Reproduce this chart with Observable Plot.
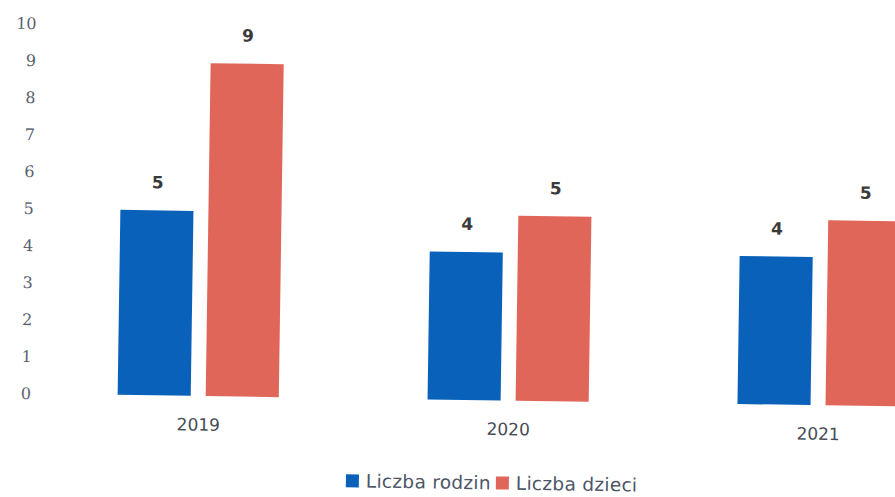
<!DOCTYPE html>
<html>
<head>
<meta charset="utf-8">
<script src="https://cdn.jsdelivr.net/npm/d3@7"></script>
<script src="https://cdn.jsdelivr.net/npm/@observablehq/plot@0.6"></script>
<style>
  html, body { margin: 0; padding: 0; background: #fff; overflow: hidden; width: 895px; height: 497px; }
  #wrap { position: relative; width: 982px; height: 497px; transform: rotate(0.85deg); transform-origin: 0 0; }
  #legend { position: absolute; left: 353px; top: 463px; }
  #legend > div { min-height: 0 !important; margin: 0 !important; height: 24px; display: flex; align-items: center; }
  #legend span { margin-right: 5px !important; letter-spacing: 0.3px; }
  #legend span > svg { margin-right: 7px !important; }
</style>
</head>
<body>
<div id="wrap"><div id="chart"></div><div id="legend"></div></div>
<script>
const years = ["2019", "2020", "2021"];
const seriesNames = ["Liczba rodzin", "Liczba dzieci"];
const liczbaRodzin = [5, 4, 4];
const liczbaDzieci = [9, 5, 5];
const yTicks = [0, 1, 2, 3, 4, 5, 6, 7, 8, 9, 10];
const colors = ["#0a61ba", "#e0665a"];

const data = years.flatMap((year, i) => [
  {year, series: seriesNames[0], value: liczbaRodzin[i]},
  {year, series: seriesNames[1], value: liczbaDzieci[i]}
]);

const chart = Plot.plot({
  width: 982,
  height: 440,
  marginLeft: 48,
  marginRight: 2,
  marginTop: 23,
  marginBottom: 47,
  style: {background: "white", fontFamily: "'DejaVu Sans', sans-serif"},
  fx: {domain: years, paddingInner: 0.48, paddingOuter: 0.2435, round: false, label: null},
  x: {domain: seriesNames, paddingInner: 0.17, paddingOuter: 0, round: false, axis: null},
  y: {domain: [0, 10], label: null},
  color: {domain: seriesNames, range: colors},
  marks: [
    Plot.barY(data, {fx: "year", x: "series", y: "value", fill: "series"}),
    Plot.text(data, {
      fx: "year", x: "series", y: "value",
      text: d => String(d.value),
      dy: -28, fontSize: 17, fontWeight: "bold", fill: "#3a3a3a",
      fontFamily: "'DejaVu Sans', sans-serif"
    }),
    Plot.axisY({
      ticks: yTicks, tickSize: 0, tickPadding: 87, label: null,
      fontSize: 16, fill: "#5a5f70", fontFamily: "'DejaVu Serif', serif"
    }),
    Plot.axisFx({
      anchor: "bottom", tickSize: 0, tickPadding: 22, label: null,
      fontSize: 17, fill: "#474b55", fontFamily: "'DejaVu Sans', sans-serif"
    })
  ]
});
document.getElementById("chart").append(chart);

const legend = Plot.legend({
  color: {domain: seriesNames, range: colors},
  legend: "swatches",
  swatchSize: 13,
  style: {fontSize: "18.5px", fontFamily: "'DejaVu Sans', sans-serif", color: "#4c5566"}
});
document.getElementById("legend").append(legend);
</script>
</body>
</html>
